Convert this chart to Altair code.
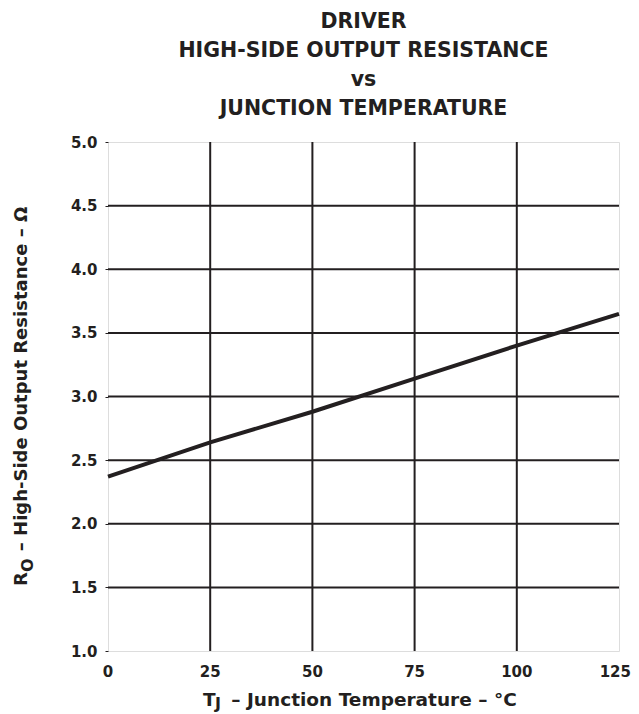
import altair as alt
import pandas as pd

# data
temps = [0, 25, 50, 75, 100, 125]
resistance = [2.37, 2.64, 2.88, 3.14, 3.40, 3.65]
x_ticks = [0, 25, 50, 75, 100, 125]
y_ticks = [1.0, 1.5, 2.0, 2.5, 3.0, 3.5, 4.0, 4.5, 5.0]
x_grid = [25, 50, 75, 100]
y_grid = [1.5, 2.0, 2.5, 3.0, 3.5, 4.0, 4.5]
title_lines = ["DRIVER", "HIGH-SIDE OUTPUT RESISTANCE", "vs", "JUNCTION TEMPERATURE"]

INK = "#231f20"
FONT = "DejaVu Sans"
W, H = 511, 509

df = pd.DataFrame({"t": temps, "r": resistance})
xs = alt.Scale(domain=[0, 125], nice=False, zero=False)
ys = alt.Scale(domain=[1.0, 5.0], nice=False, zero=False)

x_axis = alt.Axis(values=x_ticks, title=None, grid=False, domain=False, ticks=False, labels=False)
y_axis = alt.Axis(
    values=y_ticks, format=".1f", title=None, grid=False, domain=False, ticks=True,
    tickSize=3, tickColor=INK, tickWidth=1, labelPadding=8, labelFontSize=15,
    labelFontWeight="bold", labelFont=FONT, labelColor=INK, labelFlush=False)

vgrid = alt.Chart(pd.DataFrame({"g": x_grid})).mark_rule(color=INK, strokeWidth=2).encode(
    x=alt.X("g:Q", scale=xs, axis=x_axis)
)
hgrid = alt.Chart(pd.DataFrame({"g": y_grid})).mark_rule(color=INK, strokeWidth=2).encode(
    y=alt.Y("g:Q", scale=ys, axis=y_axis)
)

line = alt.Chart(df).mark_line(color=INK, strokeWidth=4, strokeCap="butt").encode(
    x=alt.X("t:Q", scale=xs, axis=x_axis),
    y=alt.Y("r:Q", scale=ys, axis=y_axis),
)

# x tick labels drawn through the x scale
xl = pd.DataFrame({"v": x_ticks[:-1]})
xlabels = alt.Chart(xl).mark_text(
    font=FONT, fontWeight="bold", fontSize=15, color=INK, align="center", baseline="top"
).encode(x=alt.X("v:Q", scale=xs, axis=x_axis), y=alt.value(H + 14), text=alt.Text("v:Q", format="d"))
xlabel_last = alt.Chart(pd.DataFrame({"v": x_ticks[-1:]})).mark_text(
    font=FONT, fontWeight="bold", fontSize=15, color=INK, align="right", baseline="top", dx=12
).encode(x=alt.X("v:Q", scale=xs, axis=x_axis), y=alt.value(H + 14), text=alt.Text("v:Q", format="d"))


def txt(s, x, y, size, align="left", angle=0):
    return alt.Chart(pd.DataFrame({"s": [s]})).mark_text(
        font=FONT, fontWeight="bold", fontSize=size, color=INK, align=align,
        baseline="alphabetic", angle=angle
    ).encode(text="s:N", x=alt.value(x), y=alt.value(y))


xtitle = [
    txt("T", 95, 564, 18.5),
    txt("J", 107, 567, 16),
    txt("– Junction Temperature – °C", 266, 564, 18.5, align="center"),
]
ytitle = [
    txt("R", -81, 444, 18, angle=270),
    txt("O", -75, 430, 16, angle=270),
    txt("– High-Side Output Resistance – Ω", -81, 237, 18, align="center", angle=270),
]

chart = alt.layer(vgrid, hgrid, line, xlabels, xlabel_last, *xtitle, *ytitle).properties(
    width=W, height=H,
    title=alt.Title(title_lines, font=FONT, fontSize=20.5, fontWeight="bold", color=INK,
                    lineHeight=29, anchor="middle", baseline="alphabetic", offset=0),
    autosize=alt.AutoSizeParams(type="none"),
    padding={"left": 100, "top": 134, "right": 12, "bottom": 62},
).configure_view(stroke="#8a8a8a", strokeWidth=1).configure(background="white")

chart.save("out.html", embed_options={"renderer": "svg", "actions": False})
